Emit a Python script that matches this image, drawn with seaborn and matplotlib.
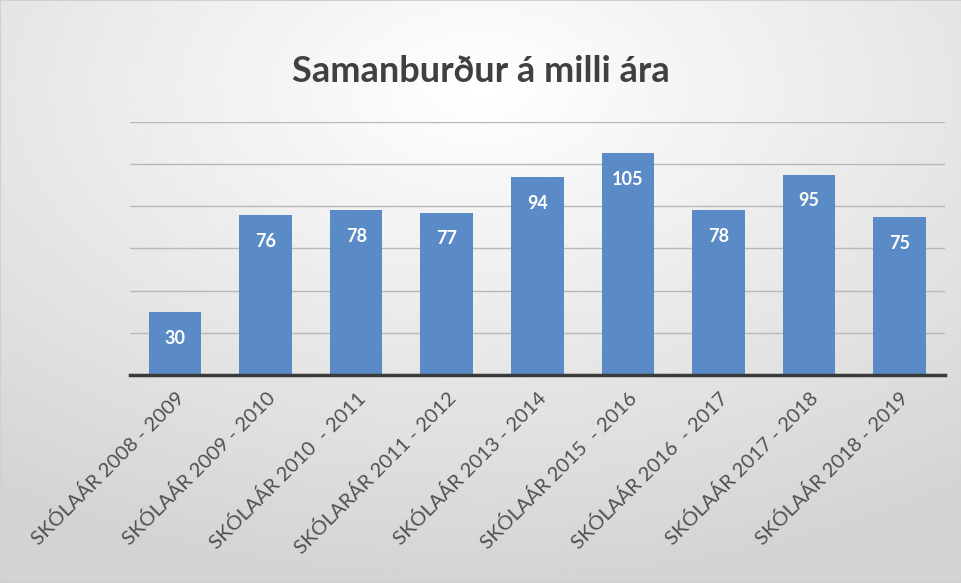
import numpy as np
import pandas as pd
import seaborn as sns
import matplotlib.pyplot as plt

# Data
skolaar = ["SKÓLAÁR 2008 - 2009", "SKÓLAÁR 2009 - 2010", "SKÓLAÁR 2010  - 2011",
           "SKÓLARÁR 2011 - 2012", "SKÓLAÁR 2013 - 2014", "SKÓLAÁR 2015  - 2016",
           "SKÓLAÁR 2016  - 2017", "SKÓLAÁR 2017 - 2018", "SKÓLAÁR 2018 - 2019"]
fjoldi = [30, 76, 78, 77, 94, 105, 78, 95, 75]
y_ticks = [0, 20, 40, 60, 80, 100, 120]

df = pd.DataFrame({"ar": skolaar, "fjoldi": fjoldi})

sns.set_theme(style="white")
plt.rcParams["font.family"] = ["Lato", "DejaVu Sans"]

fig = plt.figure(figsize=(9.62, 5.83), dpi=100)

# gradient background like the office chart area
bg = fig.add_axes([0, 0, 1, 1], zorder=-10)
yy, xx = np.mgrid[0:1:300j, 0:1:500j]
r = np.sqrt(((xx - 0.5) * 1.0) ** 2 + ((yy - 0.15) * 1.0) ** 2)
bg.imshow(1 - 0.17 * np.clip(r / 0.85, 0, 1), cmap="gray", vmin=0, vmax=1,
          aspect="auto", extent=[0, 1, 1, 0])
bg.axis("off")
fig.patches.append(plt.Rectangle((0, 0), 1, 1, transform=fig.transFigure,
                                 fill=False, edgecolor="#d0d0d0", lw=1.5))

ax = fig.add_axes([0.135, 0.357, 0.847, 0.434])
ax.patch.set_alpha(0)
sns.barplot(data=df, x="ar", y="fjoldi", color="#5b8bc7", width=0.58,
            saturation=1, linewidth=0, ax=ax, zorder=3)

ax.set_ylim(0, 120)
ax.set_xlim(-0.5, len(skolaar) - 0.5)
ax.set_yticks(y_ticks)
ax.set_yticklabels([])
ax.yaxis.grid(True, color="#b8b8b8", lw=1)
ax.set_axisbelow(True)
for s in ["top", "right", "left"]:
    ax.spines[s].set_visible(False)
ax.spines["bottom"].set_color("#3a3a3a")
ax.spines["bottom"].set_linewidth(2.5)
ax.spines["bottom"].set_zorder(5)
ax.set_xlabel("")
ax.set_ylabel("")
ax.tick_params(axis="both", length=0, pad=10)
plt.setp(ax.get_xticklabels(), rotation=45, ha="right", rotation_mode="anchor",
         fontsize=14.5, color="#505050")

for i, v in enumerate(fjoldi):
    ax.annotate(str(v), (i, v), xytext=(0, -19), textcoords="offset points",
                ha="center", va="center", color="white", fontsize=13,
                fontweight="bold", zorder=6)

fig.text(0.5, 0.877, "Samanburður á milli ára", ha="center", va="center",
         fontsize=26, color="#404040", fontweight="bold")

fig.savefig("out.png", dpi=100)
